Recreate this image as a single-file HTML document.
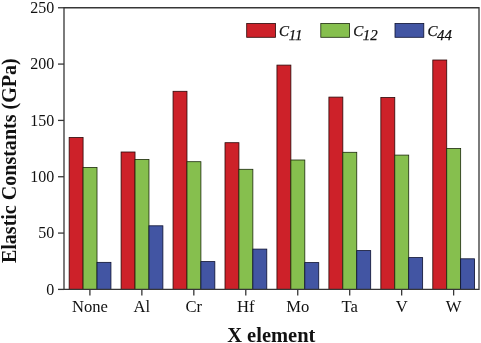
<!DOCTYPE html>
<html><head><meta charset="utf-8"><title>Elastic Constants</title>
<style>
html,body{margin:0;padding:0;background:#fff;}
body{width:481px;height:343px;overflow:hidden;}
svg{display:block;will-change:transform;}
text{font-family:"Liberation Serif",serif;fill:#111;}
</style></head><body>
<svg width="481" height="343" viewBox="0 0 481 343">
<rect x="0" y="0" width="481" height="343" fill="#ffffff"/>
<rect x="69.15" y="137.50" width="13.93" height="151.90" fill="#CD2129" stroke="#2a0808" stroke-width="0.8"/>
<rect x="83.08" y="167.40" width="13.93" height="122.00" fill="#86BF4E" stroke="#1c2a0c" stroke-width="0.8"/>
<rect x="97.01" y="262.35" width="13.93" height="27.05" fill="#4255A3" stroke="#0c1030" stroke-width="0.8"/>
<rect x="121.10" y="152.00" width="13.93" height="137.40" fill="#CD2129" stroke="#2a0808" stroke-width="0.8"/>
<rect x="135.03" y="159.40" width="13.93" height="130.00" fill="#86BF4E" stroke="#1c2a0c" stroke-width="0.8"/>
<rect x="148.96" y="225.80" width="13.93" height="63.60" fill="#4255A3" stroke="#0c1030" stroke-width="0.8"/>
<rect x="173.05" y="91.30" width="13.93" height="198.10" fill="#CD2129" stroke="#2a0808" stroke-width="0.8"/>
<rect x="186.98" y="161.70" width="13.93" height="127.70" fill="#86BF4E" stroke="#1c2a0c" stroke-width="0.8"/>
<rect x="200.91" y="261.60" width="13.93" height="27.80" fill="#4255A3" stroke="#0c1030" stroke-width="0.8"/>
<rect x="225.00" y="142.70" width="13.93" height="146.70" fill="#CD2129" stroke="#2a0808" stroke-width="0.8"/>
<rect x="238.93" y="169.30" width="13.93" height="120.10" fill="#86BF4E" stroke="#1c2a0c" stroke-width="0.8"/>
<rect x="252.86" y="249.10" width="13.93" height="40.30" fill="#4255A3" stroke="#0c1030" stroke-width="0.8"/>
<rect x="276.95" y="65.10" width="13.93" height="224.30" fill="#CD2129" stroke="#2a0808" stroke-width="0.8"/>
<rect x="290.88" y="160.00" width="13.93" height="129.40" fill="#86BF4E" stroke="#1c2a0c" stroke-width="0.8"/>
<rect x="304.81" y="262.60" width="13.93" height="26.80" fill="#4255A3" stroke="#0c1030" stroke-width="0.8"/>
<rect x="328.90" y="97.10" width="13.93" height="192.30" fill="#CD2129" stroke="#2a0808" stroke-width="0.8"/>
<rect x="342.83" y="152.30" width="13.93" height="137.10" fill="#86BF4E" stroke="#1c2a0c" stroke-width="0.8"/>
<rect x="356.76" y="250.60" width="13.93" height="38.80" fill="#4255A3" stroke="#0c1030" stroke-width="0.8"/>
<rect x="380.85" y="97.50" width="13.93" height="191.90" fill="#CD2129" stroke="#2a0808" stroke-width="0.8"/>
<rect x="394.78" y="155.10" width="13.93" height="134.30" fill="#86BF4E" stroke="#1c2a0c" stroke-width="0.8"/>
<rect x="408.71" y="257.60" width="13.93" height="31.80" fill="#4255A3" stroke="#0c1030" stroke-width="0.8"/>
<rect x="432.80" y="60.00" width="13.93" height="229.40" fill="#CD2129" stroke="#2a0808" stroke-width="0.8"/>
<rect x="446.73" y="148.50" width="13.93" height="140.90" fill="#86BF4E" stroke="#1c2a0c" stroke-width="0.8"/>
<rect x="460.66" y="258.80" width="13.93" height="30.60" fill="#4255A3" stroke="#0c1030" stroke-width="0.8"/>
<path d="M64.0,7.75 H479.0 V289.4 H64.0 Z" fill="none" stroke="#363636" stroke-width="1.3"/>
<line x1="58.0" y1="289.40" x2="64.0" y2="289.40" stroke="#363636" stroke-width="1.3"/>
<text x="54.3" y="294.50" font-size="16" text-anchor="end">0</text>
<line x1="58.0" y1="233.07" x2="64.0" y2="233.07" stroke="#363636" stroke-width="1.3"/>
<text x="54.3" y="238.17" font-size="16" text-anchor="end">50</text>
<line x1="58.0" y1="176.74" x2="64.0" y2="176.74" stroke="#363636" stroke-width="1.3"/>
<text x="54.3" y="181.84" font-size="16" text-anchor="end">100</text>
<line x1="58.0" y1="120.41" x2="64.0" y2="120.41" stroke="#363636" stroke-width="1.3"/>
<text x="54.3" y="125.51" font-size="16" text-anchor="end">150</text>
<line x1="58.0" y1="64.08" x2="64.0" y2="64.08" stroke="#363636" stroke-width="1.3"/>
<text x="54.3" y="69.18" font-size="16" text-anchor="end">200</text>
<line x1="58.0" y1="7.75" x2="64.0" y2="7.75" stroke="#363636" stroke-width="1.3"/>
<text x="54.3" y="12.85" font-size="16" text-anchor="end">250</text>
<line x1="89.90" y1="289.4" x2="89.90" y2="295.5" stroke="#363636" stroke-width="1.3"/>
<text x="89.90" y="311.6" font-size="16.6" text-anchor="middle">None</text>
<line x1="141.86" y1="289.4" x2="141.86" y2="295.5" stroke="#363636" stroke-width="1.3"/>
<text x="141.86" y="311.6" font-size="16.6" text-anchor="middle">Al</text>
<line x1="193.82" y1="289.4" x2="193.82" y2="295.5" stroke="#363636" stroke-width="1.3"/>
<text x="193.82" y="311.6" font-size="16.6" text-anchor="middle">Cr</text>
<line x1="245.78" y1="289.4" x2="245.78" y2="295.5" stroke="#363636" stroke-width="1.3"/>
<text x="245.78" y="311.6" font-size="16.6" text-anchor="middle">Hf</text>
<line x1="297.74" y1="289.4" x2="297.74" y2="295.5" stroke="#363636" stroke-width="1.3"/>
<text x="297.74" y="311.6" font-size="16.6" text-anchor="middle">Mo</text>
<line x1="349.70" y1="289.4" x2="349.70" y2="295.5" stroke="#363636" stroke-width="1.3"/>
<text x="349.70" y="311.6" font-size="16.6" text-anchor="middle">Ta</text>
<line x1="401.66" y1="289.4" x2="401.66" y2="295.5" stroke="#363636" stroke-width="1.3"/>
<text x="401.66" y="311.6" font-size="16.6" text-anchor="middle">V</text>
<line x1="453.62" y1="289.4" x2="453.62" y2="295.5" stroke="#363636" stroke-width="1.3"/>
<text x="453.62" y="311.6" font-size="16.6" text-anchor="middle">W</text>
<text x="271.3" y="341.6" font-size="20.5" font-weight="bold" text-anchor="middle">X element</text>
<text transform="translate(16.3,263.1) rotate(-90)" font-size="20.05" font-weight="bold" text-anchor="start">Elastic Constants (GPa)</text>
<rect x="246.70" y="23.5" width="28.8" height="13.8" fill="#CD2129" stroke="#2a0808" stroke-width="0.8"/>
<text x="279.10" y="35.8" font-size="15" font-style="italic" stroke="#111" stroke-width="0.25">C</text>
<text x="288.70" y="40.3" font-size="14.8" font-style="italic" stroke="#111" stroke-width="0.25">11</text>
<rect x="320.80" y="23.5" width="28.8" height="13.8" fill="#86BF4E" stroke="#1c2a0c" stroke-width="0.8"/>
<text x="353.20" y="35.8" font-size="15" font-style="italic" stroke="#111" stroke-width="0.25">C</text>
<text x="362.80" y="40.3" font-size="14.8" font-style="italic" stroke="#111" stroke-width="0.25">12</text>
<rect x="395.00" y="23.5" width="28.8" height="13.8" fill="#4255A3" stroke="#0c1030" stroke-width="0.8"/>
<text x="427.40" y="35.8" font-size="15" font-style="italic" stroke="#111" stroke-width="0.25">C</text>
<text x="437.00" y="40.3" font-size="14.8" font-style="italic" stroke="#111" stroke-width="0.25">44</text>
</svg>
</body></html>
